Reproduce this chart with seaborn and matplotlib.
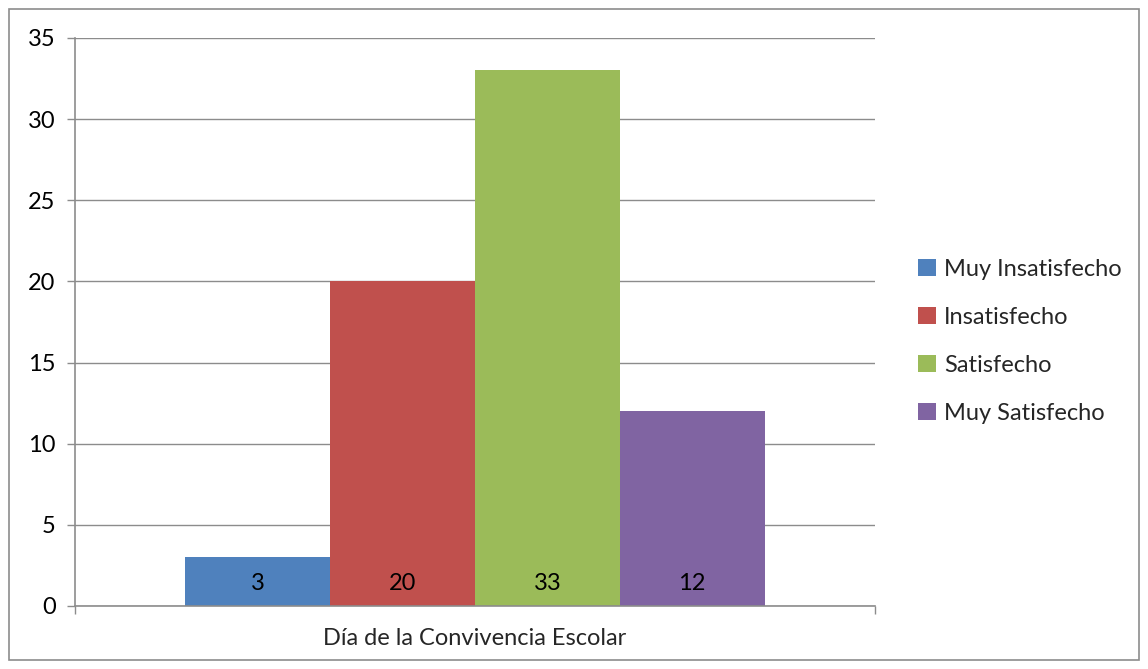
import matplotlib
matplotlib.use("Agg")
import matplotlib.pyplot as plt
import seaborn as sns
import pandas as pd
from matplotlib.patches import Rectangle

group = "Día de la Convivencia Escolar"
categories = ["Muy Insatisfecho", "Insatisfecho", "Satisfecho", "Muy Satisfecho"]
values = [3, 20, 33, 12]
colors = ["#4F81BD", "#C0504D", "#9BBB59", "#8064A2"]

df = pd.DataFrame({"grupo": [group] * len(categories), "nivel": categories, "n": values})

sns.set_theme(style="white")
plt.rcParams["font.family"] = ["Lato", "DejaVu Sans"]

fig = plt.figure(figsize=(11.48, 6.69), dpi=100)
ax = fig.add_axes([75 / 1148, 1 - 606 / 669, 800 / 1148, 568 / 669])

sns.barplot(data=df, x="grupo", y="n", hue="nivel", hue_order=categories,
            palette=colors, width=0.724, saturation=1, linewidth=0, ax=ax, legend=True)

ax.set_xlim(-0.5, 0.5)
ax.set_ylim(0, 35)
ax.set_yticks(range(0, 36, 5))
ax.yaxis.grid(True, color="#8c8c8c", linewidth=1)
ax.set_axisbelow(True)
for s in ["top", "right"]:
    ax.spines[s].set_visible(False)
for s in ["left", "bottom"]:
    ax.spines[s].set_color("#8c8c8c")
    ax.spines[s].set_linewidth(1.2)

ax.set_xticks([-0.5, 0.5])
ax.set_xticklabels(["", ""])
ax.tick_params(axis="both", direction="out", length=6, color="#8c8c8c", width=1,
               labelsize=17, labelcolor="black", left=True, bottom=True)
ax.tick_params(axis="y", pad=8)
ax.set_ylabel("")
ax.set_xlabel(group, fontsize=17, labelpad=6)

# value labels near bar base
for cont in ax.containers:
    for bar, v in zip(cont, cont.datavalues):
        ax.annotate(f"{v:g}", (bar.get_x() + bar.get_width() / 2, 0),
                    xytext=(0, 23), textcoords="offset pixels",
                    ha="center", va="center", fontsize=17, color="black")

leg = ax.legend(loc="center left", bbox_to_anchor=(1.027, 0.466), frameon=False,
                fontsize=17, handlelength=0.75, handleheight=0.75,
                handletextpad=0.35, labelspacing=1.15)

fig.patches.append(Rectangle((9 / 1148, 9 / 669), 1130 / 1148, 651 / 669,
                             transform=fig.transFigure, fill=False,
                             edgecolor="#8c8c8c", linewidth=1.2))

fig.savefig("out.png", dpi=100)
